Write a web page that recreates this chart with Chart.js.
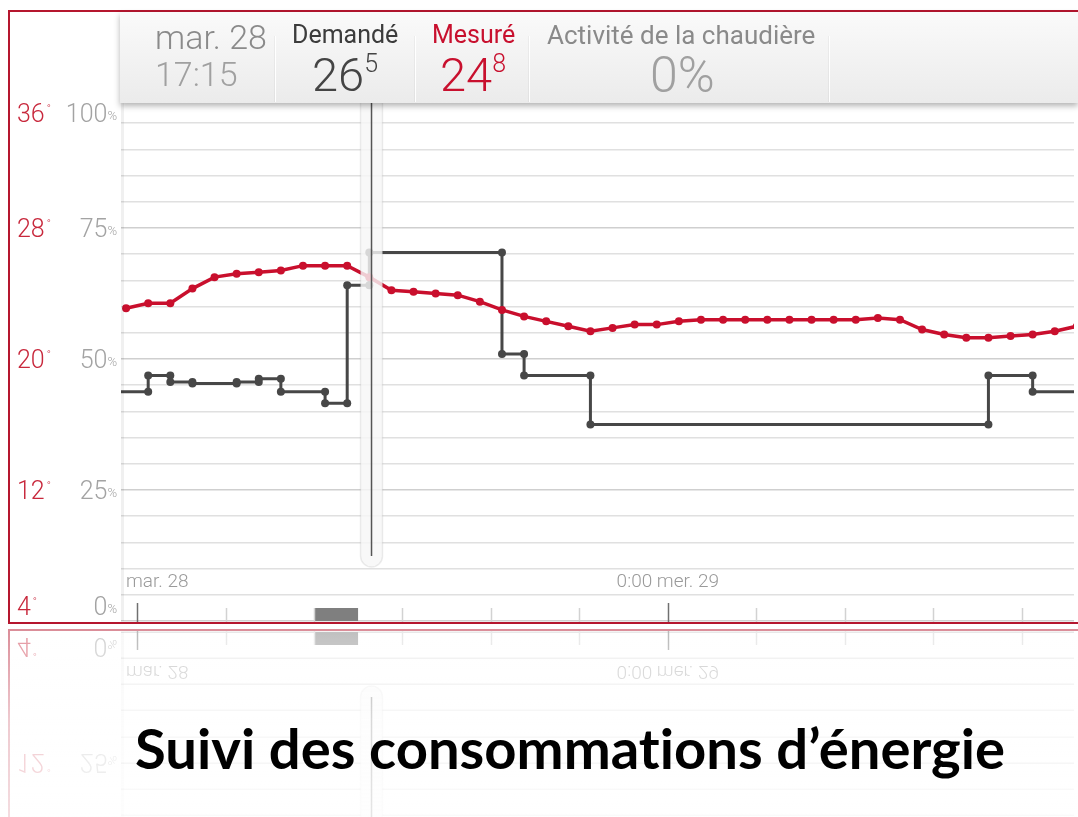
<!DOCTYPE html>
<html>
<head>
<meta charset="utf-8">
<script src="https://cdn.jsdelivr.net/npm/chart.js@4.4.0/dist/chart.umd.min.js"></script>
<style>
body{margin:0;width:1078px;height:817px;overflow:hidden;position:relative;background:#fff;font-family:Roboto,sans-serif}
#main{position:absolute;left:0;top:0}
#refl{position:absolute;left:0;top:624px}
#header{position:absolute;left:120px;top:12px;width:958px;height:91px;background:linear-gradient(#fafafa,#ebebeb);box-shadow:0 3px 6px rgba(0,0,0,.3)}
.sep{position:absolute;top:24px;width:1px;height:66px;background:rgba(255,255,255,.95);box-shadow:-1px 0 0 rgba(0,0,0,.04)}
.t{position:absolute;line-height:1;white-space:nowrap}
#title{position:absolute;left:135px;top:721px;font-family:Lato,sans-serif;font-weight:700;font-size:55px;color:#000;white-space:nowrap;transform-origin:0 0;line-height:1;font-variant-ligatures:none;font-feature-settings:"liga" 0}
</style>
</head>
<body>
<canvas id="main" width="1078" height="625"></canvas>
<canvas id="refl" width="1078" height="193"></canvas>
<div id="header">
  <div class="sep" style="left:155px"></div>
  <div class="sep" style="left:295px"></div>
  <div class="sep" style="left:409px"></div>
  <div class="sep" style="left:709px"></div>
</div>
<div class="t" style="left:155px;top:20px;font-size:34px;font-weight:300;color:#8a8a8a">mar. 28</div>
<div class="t" style="left:155px;top:57px;font-size:34px;font-weight:300;color:#a0a0a0">17:15</div>
<div class="t" style="left:292px;top:22px;font-size:25px;color:#3c3c3c">Demandé</div>
<div class="t" style="left:312px;top:51px;font-size:47px;font-weight:300;color:#444">26<span style="font-size:25px;vertical-align:19px">5</span></div>
<div class="t" style="left:432px;top:22px;font-size:25px;color:#c8102e">Mesuré</div>
<div class="t" style="left:440px;top:51px;font-size:47px;font-weight:300;color:#c8102e">24<span style="font-size:25px;vertical-align:19px">8</span></div>
<div class="t" style="left:547px;top:22px;font-size:26px;color:#8a8a8a">Activité de la chaudière</div>
<div class="t" style="left:650px;top:50px;font-size:50px;font-weight:300;color:#a0a0a0">0%</div>
<div id="title">Suivi des consommations d’énergie</div>
<script>
// time axis in hours from 0:00 mar. 28
var xMin = -0.73;
var xMax = 42.37;

// measured temperature, one reading per hour
var measuredHours = [-0.5, 0.5, 1.5, 2.5, 3.5, 4.5, 5.5, 6.5, 7.5, 8.5, 9.5, 10.5, 11.5, 12.5, 13.5, 14.5, 15.5, 16.5, 17.5, 18.5, 19.5, 20.5,
  21.5, 22.5, 23.5, 24.5, 25.5, 26.5, 27.5, 28.5, 29.5, 30.5, 31.5, 32.5, 33.5, 34.5, 35.5, 36.5, 37.5, 38.5, 39.5, 40.5, 41.5, 42.5];
var measuredTemps = [23.1, 23.4, 23.4, 24.3, 25.0, 25.2, 25.3, 25.4, 25.7, 25.7, 25.7, 25.0, 24.2, 24.1, 24.0, 23.9, 23.5, 23.0, 22.6, 22.3, 22.0, 21.7,
  21.9, 22.1, 22.1, 22.3, 22.4, 22.4, 22.4, 22.4, 22.4, 22.4, 22.4, 22.4, 22.5, 22.4, 21.8, 21.5, 21.3, 21.3, 21.4, 21.5, 21.7, 22.0];

// requested temperature: value before the first change, then one value after each change
var setChangeHours = [0.5, 1.5, 2.5, 4.5, 5.5, 6.5, 8.5, 9.5, 10.5, 16.5, 17.5, 20.5, 38.5, 40.5];
var setTemps = [18.0, 19.0, 18.6, 18.5, 18.6, 18.8, 18.0, 17.3, 24.5, 26.5, 20.3, 19.0, 16.0, 19.0, 18.0];

// boiler activity
var boilerStart = 8;
var boilerEnd = 10;
var boilerLevel = 2.5;

var tempTicks = [4, 12, 20, 28, 36];
var pctTicks = [0, 25, 50, 75, 100];
var timeTicks = [0, 4, 8, 12, 16, 20, 24, 28, 32, 36, 40];
var dayTicks = [0, 24];
var dayLabels = ['0:00 mar. 28', '0:00 mer. 29'];
var cursorHour = 10.6;

var red = '#c90f2d';
var dark = '#474747';

var measuredPoints = measuredHours.map(function(h, i){ return {x: h, y: measuredTemps[i]}; });
var setPoints = [{x: xMin, y: setTemps[0]}];
setChangeHours.forEach(function(h, i){
    setPoints.push({x: h, y: setTemps[i]});
    setPoints.push({x: h, y: setTemps[i + 1]});
});
setPoints.push({x: xMax, y: setTemps[setTemps.length - 1]});

var drawPlugin = {
    id: 'drawPlugin',
    afterDatasetsDraw: function(chart){
        var ctx = chart.ctx, area = chart.chartArea;
        var cx = chart.scales.x.getPixelForValue(cursorHour);
        ctx.save();
        // cursor band
        var top = area.top, bot = 567, w = 22, r = 11;
        ctx.beginPath();
        ctx.moveTo(cx - w / 2, top);
        ctx.lineTo(cx + w / 2, top);
        ctx.lineTo(cx + w / 2, bot - r);
        ctx.arc(cx, bot - r, r, 0, Math.PI);
        ctx.closePath();
        ctx.fillStyle = 'rgba(246,246,246,0.82)';
        ctx.fill();
        ctx.strokeStyle = 'rgba(0,0,0,0.07)';
        ctx.lineWidth = 1.5;
        ctx.stroke();
        ctx.beginPath();
        ctx.moveTo(cx, top);
        ctx.lineTo(cx, 556);
        ctx.strokeStyle = '#555';
        ctx.lineWidth = 1.5;
        ctx.stroke();
        ctx.restore();
    },
    afterDraw: function(chart){
        var ctx = chart.ctx, area = chart.chartArea;
        var xs = chart.scales.x, yT = chart.scales.yT, yP = chart.scales.y;
        ctx.save();
        // left edge shade of the plot
        ctx.fillStyle = 'rgba(0,0,0,0.06)';
        ctx.fillRect(area.left, area.top, 3, area.bottom - area.top);

        // y labels
        tempTicks.forEach(function(t, i){
            var py = Math.min(Math.max(yT.getPixelForValue(t), 113), 606);
            ctx.textBaseline = 'alphabetic';
            ctx.textAlign = 'left';
            ctx.fillStyle = '#c8283c';
            ctx.font = '300 25px Roboto';
            ctx.fillText(String(t), 17, py + 9);
            var tw = ctx.measureText(String(t)).width;
            ctx.font = '300 11px Roboto';
            ctx.fillText('°', 17 + tw + 2, py - 1);

            var p = pctTicks[i];
            var ppy = Math.min(Math.max(yP.getPixelForValue(p), 113), 606);
            ctx.fillStyle = '#a3a3a3';
            ctx.textAlign = 'right';
            ctx.font = '300 13px Roboto';
            var pw = ctx.measureText('%').width;
            ctx.fillText('%', 117, ppy + 7);
            ctx.font = '300 25px Roboto';
            ctx.fillText(String(p), 117 - pw, ppy + 9);
        });

        // time axis labels and ticks inside the plot
        ctx.beginPath();
        ctx.rect(area.left + 1, 0, area.right - area.left, chart.height);
        ctx.clip();
        ctx.font = '300 19px Roboto';
        ctx.fillStyle = '#9a9a9a';
        ctx.textAlign = 'center';
        ctx.textBaseline = 'middle';
        dayTicks.forEach(function(h, i){
            ctx.fillText(dayLabels[i], xs.getPixelForValue(h), 582);
        });
        timeTicks.forEach(function(h){
            var px = Math.round(xs.getPixelForValue(h)) + 0.5;
            var major = dayTicks.indexOf(h) >= 0;
            ctx.beginPath();
            ctx.moveTo(px, major ? 603 : 608);
            ctx.lineTo(px, 623);
            ctx.strokeStyle = major ? '#707070' : '#d2d2d2';
            ctx.lineWidth = 1.5;
            ctx.stroke();
        });
        ctx.restore();

        // red frame
        ctx.save();
        ctx.strokeStyle = '#b5162e';
        ctx.lineWidth = 2;
        ctx.beginPath();
        ctx.moveTo(1080, 11);
        ctx.lineTo(9, 11);
        ctx.lineTo(9, 623);
        ctx.lineTo(1080, 623);
        ctx.stroke();
        ctx.restore();
    },
    afterRender: function(chart){
        var rc = document.getElementById('refl');
        var rctx = rc.getContext('2d');
        rctx.setTransform(1, 0, 0, 1, 0, 0);
        rctx.clearRect(0, 0, rc.width, rc.height);
        rctx.save();
        rctx.globalAlpha = 0.5;
        rctx.setTransform(1, 0, 0, -1, 0, 629);
        rctx.drawImage(chart.canvas, 0, 0);
        rctx.restore();
        var g = rctx.createLinearGradient(0, 0, 0, rc.height);
        g.addColorStop(0, 'rgba(255,255,255,0)');
        g.addColorStop(0.5, 'rgba(255,255,255,0.55)');
        g.addColorStop(1, 'rgba(255,255,255,0.7)');
        rctx.fillStyle = g;
        rctx.fillRect(0, 0, rc.width, rc.height);
    }
};

var chart = new Chart(document.getElementById('main').getContext('2d'), {
    type: 'line',
    data: {
        datasets: [
            {
                label: 'Mesuré',
                data: measuredPoints,
                yAxisID: 'yT',
                borderColor: red,
                backgroundColor: red,
                borderWidth: 3.5,
                pointRadius: 4,
                pointBorderWidth: 0,
                pointBackgroundColor: red,
                tension: 0,
                order: 1
            },
            {
                label: 'Demandé',
                data: setPoints,
                yAxisID: 'yT',
                borderColor: dark,
                backgroundColor: dark,
                borderWidth: 3,
                pointRadius: function(c){ return (c.dataIndex === 0 || c.dataIndex === setPoints.length - 1) ? 0 : 4; },
                pointBorderWidth: 0,
                pointBackgroundColor: dark,
                tension: 0,
                order: 2
            },
            {
                label: 'Activité de la chaudière',
                data: [{x: boilerStart, y: boilerLevel}, {x: boilerEnd, y: boilerLevel}],
                yAxisID: 'y',
                borderWidth: 0,
                pointRadius: 0,
                backgroundColor: '#7f7f7f',
                fill: 'origin',
                order: 3
            }
        ]
    },
    options: {
        responsive: false,
        animation: false,
        events: [],
        layout: {padding: {left: 121, top: 97, right: 0, bottom: 2}},
        plugins: {legend: {display: false}, tooltip: {enabled: false}},
        scales: {
            x: {type: 'linear', min: xMin, max: xMax, display: false},
            y: {
                position: 'left', min: 0, max: 100,
                ticks: {display: false, stepSize: 5},
                grid: {
                    color: function(c){ return c.tick && c.tick.value % 25 === 0 ? '#cfcfcf' : '#e0e0e0'; },
                    lineWidth: 1.5,
                    drawTicks: false
                },
                border: {display: false},
                afterFit: function(s){ s.width = 0; }
            },
            yT: {position: 'left', min: 4, max: 36, display: false}
        }
    },
    plugins: [drawPlugin]
});

// fit the title width
var title = document.getElementById('title');
var tw = title.getBoundingClientRect().width;
title.style.transform = 'scaleX(' + (870 / tw) + ')';
</script>
</body>
</html>
